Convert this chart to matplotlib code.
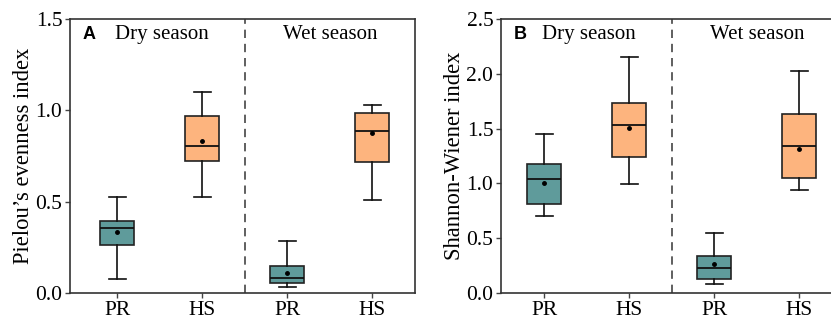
import matplotlib
matplotlib.use("Agg")
import matplotlib.pyplot as plt
from matplotlib.transforms import offset_copy, blended_transform_factory

plt.rcParams['font.family'] = ['Liberation Serif', 'DejaVu Serif']

groups = ["PR", "HS", "PR", "HS"]
seasons = ["Dry season", "Wet season"]

# Pielou's evenness: whislo, q1, med, mean, q3, whishi
pielou_whislo = [0.078, 0.524, 0.035, 0.509]
pielou_q1 = [0.263, 0.722, 0.056, 0.717]
pielou_med = [0.357, 0.806, 0.084, 0.885]
pielou_mean = [0.332, 0.832, 0.109, 0.876]
pielou_q3 = [0.394, 0.969, 0.148, 0.987]
pielou_whishi = [0.525, 1.100, 0.285, 1.027]

# Shannon-Wiener
shannon_whislo = [0.698, 0.999, 0.082, 0.942]
shannon_q1 = [0.808, 1.240, 0.128, 1.045]
shannon_med = [1.039, 1.534, 0.228, 1.343]
shannon_mean = [1.008, 1.510, 0.267, 1.315]
shannon_q3 = [1.179, 1.738, 0.337, 1.632]
shannon_whishi = [1.452, 2.154, 0.547, 2.029]

colors = ["#5F9B9B", "#FDB47E", "#5F9B9B", "#FDB47E"]

fig = plt.figure(figsize=(8.31, 3.22), dpi=100)
axA = fig.add_axes([70/831, 29/322, 345/831, 274/322])
axB = fig.add_axes([501/831, 29/322, 341/831, 274/322])


def draw(ax, lo, q1, med, mean, q3, hi, ylim, yticks, ylabel, letter, xleft):
    stats = []
    for i in range(len(groups)):
        stats.append(dict(whislo=lo[i], q1=q1[i], med=med[i], mean=mean[i],
                          q3=q3[i], whishi=hi[i], fliers=[], label=groups[i]))
    bp = ax.bxp(stats, positions=range(len(groups)), widths=0.4,
                patch_artist=True, showmeans=True, showfliers=False,
                boxprops=dict(edgecolor="#222222", linewidth=1.2),
                medianprops=dict(color="#111111", linewidth=1.3),
                whiskerprops=dict(color="#111111", linewidth=1.2),
                capprops=dict(color="#111111", linewidth=1.2),
                meanprops=dict(marker='o', markerfacecolor='black',
                               markeredgecolor='black', markersize=2.5))
    for patch, c in zip(bp['boxes'], colors):
        patch.set_facecolor(c)
    ax.axvline(1.5, color="#444444", linestyle=(0, (5, 3.5)), linewidth=1.2)
    ax.set_xlim(xleft, 3.5)
    ax.set_ylim(*ylim)
    ax.set_yticks(yticks)
    ax.set_yticklabels([f"{t:.1f}" for t in yticks])
    ax.set_xticks(range(len(groups)))
    ax.set_xticklabels(groups)
    ax.tick_params(axis='both', labelsize=15.5, length=3.5, width=1.0,
                   color="#444444", pad=2)
    for s in ax.spines.values():
        s.set_color("#333333")
        s.set_linewidth(1.2)
    ax.set_ylabel(ylabel, fontsize=16.3, labelpad=1)
    trA = offset_copy(ax.transAxes, fig=fig, x=13, y=0, units='dots')
    ax.text(0.0, 0.945, letter, transform=trA, fontsize=13,
            fontweight='bold', family='Liberation Sans', va='center', ha='left')
    tr = blended_transform_factory(ax.transData, ax.transAxes)
    ax.text(0.52, 0.945, seasons[0], transform=tr, fontsize=15,
            va='center', ha='center')
    ax.text(2.5, 0.945, seasons[1], transform=tr, fontsize=15,
            va='center', ha='center')


draw(axA, pielou_whislo, pielou_q1, pielou_med, pielou_mean, pielou_q3,
     pielou_whishi, (0, 1.5), [0.0, 0.5, 1.0, 1.5],
     "Pielou\u2019s evenness index", "A", -0.556)
draw(axB, shannon_whislo, shannon_q1, shannon_med, shannon_mean, shannon_q3,
     shannon_whishi, (0, 2.5), [0.0, 0.5, 1.0, 1.5, 2.0, 2.5],
     "Shannon-Wiener index", "B", -0.51)
axB.spines['right'].set_visible(False)

fig.savefig("out.png", dpi=100)
